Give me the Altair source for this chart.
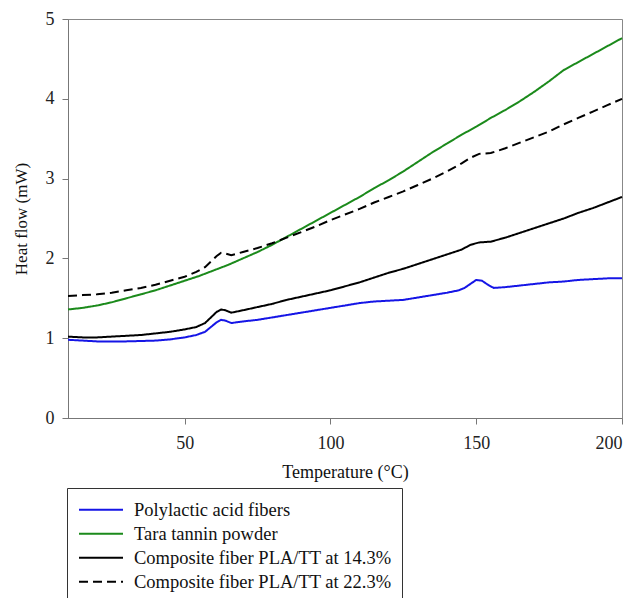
import altair as alt
import pandas as pd

names = ["Polylactic acid fibers", "Tara tannin powder",
         "Composite fiber PLA/TT at 14.3%", "Composite fiber PLA/TT at 22.3%"]
colors = ["#1515e6", "#1b8a1b", "#000000", "#000000"]
dashes = [[1, 0], [1, 0], [1, 0], [9, 5]]

pla_T = [10, 15, 20, 25, 30, 35, 40, 45, 50, 54, 57, 59, 61, 62.5, 64, 66, 70, 75, 80, 85, 90, 95,
         100, 105, 110, 115, 120, 125, 130, 135, 140, 144, 146, 148, 150, 152, 154, 156, 160, 165,
         170, 175, 180, 185, 190, 195, 200]
pla_V = [0.98, 0.97, 0.96, 0.96, 0.96, 0.965, 0.97, 0.985, 1.01, 1.04, 1.08, 1.14, 1.20, 1.23, 1.22,
         1.19, 1.21, 1.23, 1.26, 1.29, 1.32, 1.35, 1.38, 1.41, 1.44, 1.46, 1.47, 1.48, 1.51, 1.54,
         1.57, 1.60, 1.63, 1.68, 1.73, 1.72, 1.67, 1.63, 1.64, 1.66, 1.68, 1.70, 1.71, 1.73, 1.74,
         1.75, 1.75]

tt_T = [10, 15, 20, 25, 30, 35, 40, 45, 50, 55, 60, 65, 70, 75, 80, 85, 90, 95, 100, 105, 110, 115,
        120, 125, 130, 135, 140, 145, 150, 155, 160, 165, 170, 175, 180, 185, 190, 195, 200]
tt_V = [1.36, 1.38, 1.41, 1.45, 1.50, 1.55, 1.60, 1.66, 1.72, 1.78, 1.85, 1.92, 2.00, 2.08, 2.17,
        2.27, 2.37, 2.47, 2.57, 2.67, 2.77, 2.88, 2.98, 3.09, 3.21, 3.33, 3.44, 3.55, 3.65, 3.76,
        3.86, 3.97, 4.09, 4.22, 4.36, 4.46, 4.56, 4.66, 4.76]

c14_T = [10, 15, 20, 25, 30, 35, 40, 45, 50, 54, 57, 59, 61, 62.5, 64, 66, 70, 75, 80, 85, 90, 95,
         100, 105, 110, 115, 120, 125, 130, 135, 140, 145, 148, 151, 155, 160, 165, 170, 175, 180,
         185, 190, 195, 200]
c14_V = [1.02, 1.01, 1.01, 1.02, 1.03, 1.04, 1.06, 1.08, 1.11, 1.14, 1.19, 1.26, 1.33, 1.36, 1.35,
         1.32, 1.35, 1.39, 1.43, 1.48, 1.52, 1.56, 1.60, 1.65, 1.70, 1.76, 1.82, 1.87, 1.93, 1.99,
         2.05, 2.11, 2.17, 2.20, 2.21, 2.26, 2.32, 2.38, 2.44, 2.50, 2.57, 2.63, 2.70, 2.77]

c22_T = [10, 15, 20, 25, 30, 35, 40, 45, 50, 54, 57, 59, 61, 62.5, 64, 66, 70, 75, 80, 85, 90, 95,
         100, 105, 110, 115, 120, 125, 130, 135, 140, 145, 148, 151, 155, 160, 165, 170, 175, 180,
         185, 190, 195, 200]
c22_V = [1.53, 1.54, 1.55, 1.57, 1.60, 1.63, 1.67, 1.72, 1.77, 1.83, 1.89, 1.96, 2.03, 2.07, 2.06,
         2.04, 2.08, 2.13, 2.19, 2.26, 2.33, 2.40, 2.48, 2.55, 2.62, 2.70, 2.77, 2.84, 2.92, 3.00,
         3.09, 3.19, 3.26, 3.31, 3.32, 3.38, 3.45, 3.52, 3.59, 3.68, 3.76, 3.84, 3.92, 4.00]

x_ticks = [50, 100, 150, 200]
y_ticks = [0, 1, 2, 3, 4, 5]

rows = []
for name, T, V in zip(names, [pla_T, tt_T, c14_T, c22_T], [pla_V, tt_V, c14_V, c22_V]):
    for t, v in zip(T, V):
        rows.append({"series": name, "T": t, "HF": v})
df = pd.DataFrame(rows)

FONT = "Liberation Serif"

legend = alt.Legend(
    title=None, orient="none", legendX=-1, legendY=469,
    fillColor="white", strokeColor="#333333", padding=10,
    symbolType="stroke", symbolSize=1936, symbolStrokeWidth=2, symbolOffset=1,
    labelFont=FONT, labelFontSize=18.5, labelColor="#111111", labelOffset=10,
    rowPadding=0, clipHeight=23.5, labelLimit=400,
)

chart = alt.Chart(df).mark_line(strokeWidth=2).encode(
    x=alt.X("T:Q", scale=alt.Scale(domain=[10, 200], nice=False, zero=False),
            axis=alt.Axis(values=x_ticks, title="Temperature (°C)")),
    y=alt.Y("HF:Q", scale=alt.Scale(domain=[0, 5], nice=False),
            axis=alt.Axis(values=y_ticks, title="Heat flow (mW)")),
    color=alt.Color("series:N", scale=alt.Scale(domain=names, range=colors), legend=legend),
    strokeDash=alt.StrokeDash("series:N", scale=alt.Scale(domain=names, range=dashes), legend=legend),
).properties(
    width=554, height=399,
    autosize=alt.AutoSizeParams(type="none"),
    padding={"left": 68, "top": 19, "right": 16, "bottom": 180},
).configure_view(
    stroke="#888888", strokeWidth=1
).configure_axis(
    grid=False, domainColor="#777777", tickColor="#777777", tickSize=6,
    labelFont=FONT, labelFontSize=18, labelColor="#222222",
    titleFont=FONT, titleFontSize=18, titleFontWeight="normal", titleColor="#111111",
).configure_axisX(
    labelPadding=10, titlePadding=11,
).configure_axisY(
    labelPadding=8, titlePadding=15, titleFontSize=17,
)

chart.save("out.html", embed_options={"renderer": "svg", "actions": False})
